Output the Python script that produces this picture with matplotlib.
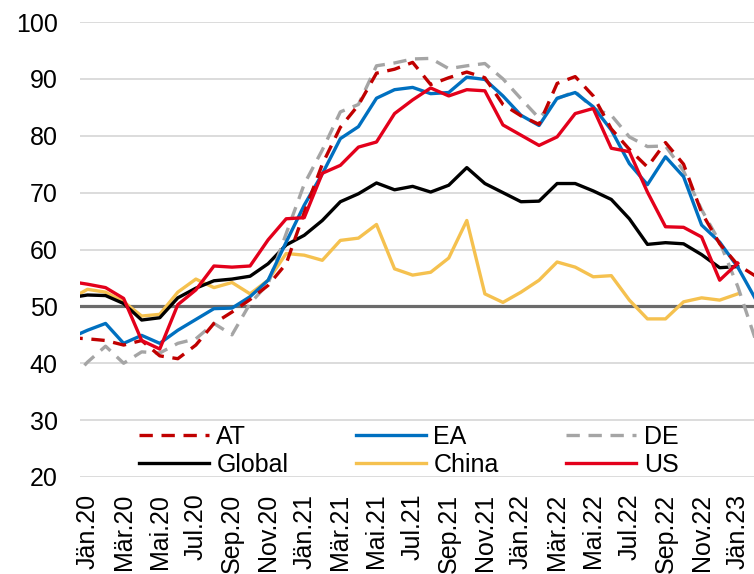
import numpy as np
import pandas as pd
import matplotlib
matplotlib.use('Agg')
import matplotlib.pyplot as plt

plt.rcParams['font.family'] = ['Liberation Sans', 'DejaVu Sans']

# monthly values Dez.19 .. Feb.23
dates = pd.date_range('2019-12-01', '2023-02-01', freq='MS')

at = [44.5, 44.3, 44.0, 43.2, 44.0, 41.3, 40.8, 43.2, 47.0, 49.0, 51.2, 53.7, 57.5,
      66.5, 75.0, 81.5, 85.4, 91.0, 91.7, 92.9, 89.0, 90.2, 91.2, 90.2, 85.5,
      83.5, 82.0, 89.2, 90.4, 87.0, 81.2, 77.6, 74.5, 78.8, 75.0, 66.5, 61.0, 57.3, 55.3]
ea = [44.4, 45.8, 47.0, 43.5, 44.9, 43.5, 45.8, 47.7, 49.6, 49.7, 51.7, 54.6, 61.3,
      67.8, 73.3, 79.5, 81.6, 86.6, 88.1, 88.5, 87.4, 87.6, 90.3, 89.9, 87.0,
      83.6, 81.8, 86.6, 87.6, 85.1, 81.0, 75.1, 71.4, 76.3, 72.8, 64.3, 61.3, 56.9, 51.2]
de = [36.8, 40.2, 43.0, 40.0, 42.0, 41.8, 43.5, 44.3, 47.0, 45.0, 50.5, 54.0, 62.8,
      71.5, 77.5, 84.2, 85.5, 92.3, 92.8, 93.5, 93.6, 91.8, 92.3, 92.7, 90.0,
      86.5, 83.1, 86.5, 87.8, 84.8, 83.6, 79.8, 78.1, 78.2, 73.8, 67.0, 61.3, 53.5, 44.0]
glob = [51.5, 52.0, 51.9, 50.5, 47.6, 48.0, 51.5, 53.2, 54.5, 54.8, 55.3, 57.5, 60.8,
        62.5, 65.1, 68.4, 69.8, 71.7, 70.5, 71.1, 70.1, 71.3, 74.4, 71.6, 70.0,
        68.4, 68.5, 71.6, 71.6, 70.3, 68.8, 65.4, 60.9, 61.2, 61.0, 59.1, 56.8, 57.0, np.nan]
china = [51.2, 53.0, 52.5, 50.8, 48.3, 48.6, 52.5, 54.8, 53.3, 54.2, 52.2, 54.6, 59.3,
         59.0, 58.1, 61.6, 62.0, 64.4, 56.6, 55.5, 56.0, 58.5, 65.1, 52.2, 50.7,
         52.5, 54.6, 57.8, 56.9, 55.2, 55.4, 51.1, 47.8, 47.8, 50.8, 51.5, 51.1, 52.2, np.nan]
us = [54.4, 53.9, 53.3, 51.4, 44.0, 42.5, 50.3, 52.9, 57.1, 56.9, 57.1, 61.7, 65.4,
      65.6, 73.4, 74.8, 78.0, 78.9, 83.9, 86.3, 88.4, 87.0, 88.1, 87.9, 81.9,
      80.1, 78.3, 79.8, 83.9, 84.8, 77.8, 77.2, 70.1, 64.0, 63.9, 62.2, 54.6, 57.6, np.nan]

tick_labels = ['Jän.20', 'Mär.20', 'Mai.20', 'Jul.20', 'Sep.20', 'Nov.20',
               'Jän.21', 'Mär.21', 'Mai.21', 'Jul.21', 'Sep.21', 'Nov.21',
               'Jän.22', 'Mär.22', 'Mai.22', 'Jul.22', 'Sep.22', 'Nov.22', 'Jän.23']

# month index, 0 = Jän.20
x = (dates.year - 2020) * 12 + dates.month - 1

fig = plt.figure(figsize=(7.54, 5.74), dpi=100)
ax = fig.add_axes([80 / 754, 97 / 574, 674 / 754, 455 / 574])

lw = 2.4
dash = (4.0, 2.6)
ax.plot(x, china, color='#F5C14F', lw=lw, label='China')
ax.plot(x, glob, color='black', lw=lw, label='Global')
ax.plot(x, de, color='#A5A5A5', lw=lw, dashes=dash, label='DE')
ax.plot(x, ea, color='#0070C0', lw=lw, label='EA')
ax.plot(x, at, color='#C00000', lw=lw, dashes=dash, label='AT')
ax.plot(x, us, color='#E3001B', lw=lw, label='US')

ax.axhline(50, color='#6b6b6b', lw=2.3, zorder=1.5)

ax.set_ylim(20, 100)
ax.set_yticks(range(20, 101, 10))
ax.set_xlim(-0.415, 36.9)
ax.set_xticks(np.arange(0, 37, 2))
ax.set_xticklabels(tick_labels, rotation=90, fontsize=18)
ax.tick_params(axis='y', labelsize=18, pad=16)
ax.tick_params(axis='x', pad=12)
ax.tick_params(length=0)
ax.grid(axis='y', color='#d9d9d9', lw=1.3)
ax.set_axisbelow(True)
for s in ax.spines.values():
    s.set_visible(False)

h = {l.get_label(): l for l in ax.get_lines()}
order = ['AT', 'Global', 'EA', 'China', 'DE', 'US']
fig.legend([h[k] for k in order], order, loc='center', ncol=3,
           bbox_to_anchor=(0.542, 0.2143), frameon=False, fontsize=18,
           handlelength=2.8, handletextpad=0.3, columnspacing=2.7,
           labelspacing=0.15, borderpad=0)

fig.savefig('out.png', dpi=100)
